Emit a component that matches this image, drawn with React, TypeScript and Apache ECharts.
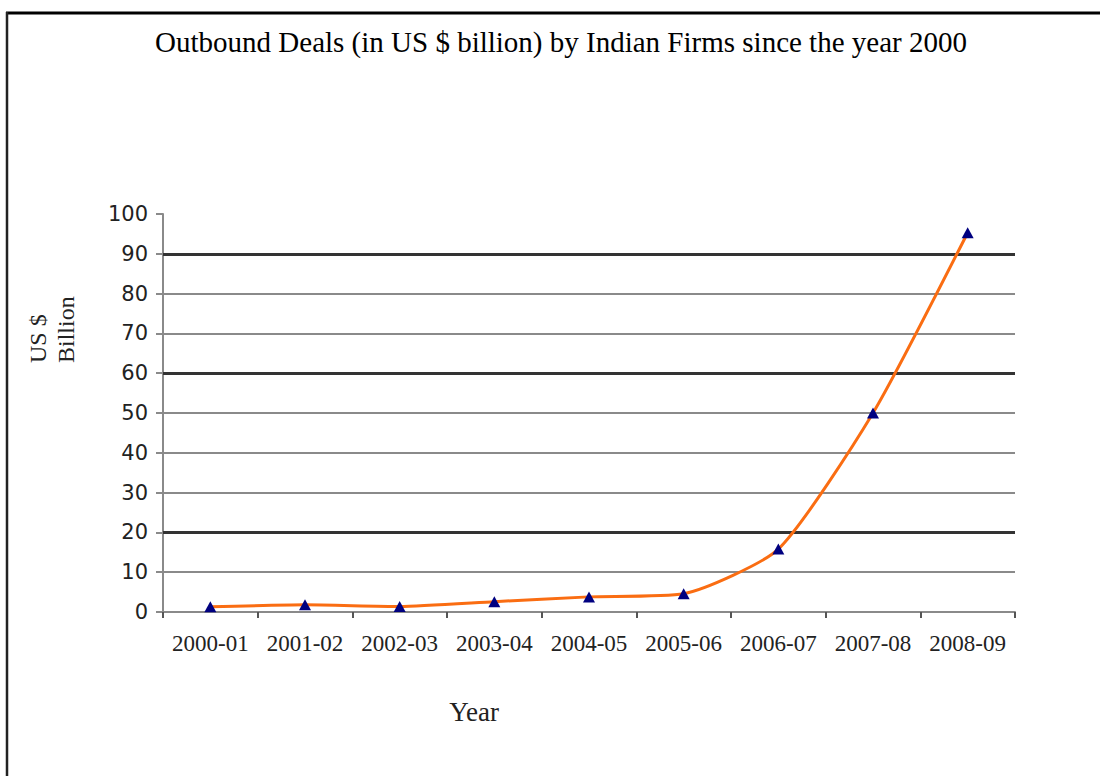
import React, { useEffect, useRef } from "react";
import * as echarts from "echarts";

const categories = ["2000-01", "2001-02", "2002-03", "2003-04", "2004-05", "2005-06", "2006-07", "2007-08", "2008-09"];
const dealValues = [1.3, 1.8, 1.4, 2.6, 3.8, 4.6, 15.8, 50, 95.3];
const emphasisLines = [20, 60, 90];
const titleText = "Outbound Deals (in US $ billion) by Indian Firms since the year 2000";

const SERIF = "'Liberation Serif', 'Times New Roman', serif";
const SANS = "'DejaVu Sans', Verdana, sans-serif";

export default function App() {
  const ref = useRef<HTMLDivElement>(null);
  useEffect(() => {
    if (!ref.current) return;
    const chart = echarts.init(ref.current, undefined, { renderer: "svg" });
    const grid = "#8a8a8a";
    const splitColors = ["#8a8a8a", "#8a8a8a", "#333", "#8a8a8a", "#8a8a8a", "#8a8a8a", "#333", "#8a8a8a", "#8a8a8a", "#333", "rgba(0,0,0,0)"];
    chart.setOption({
      animation: false,
      backgroundColor: "#ffffff",
      grid: { left: 163, right: 85, top: 214, bottom: 164, containLabel: false },
      xAxis: {
        type: "category",
        data: categories,
        boundaryGap: true,
        axisLine: { show: true, lineStyle: { color: grid, width: 2 } },
        axisTick: { show: true, length: 6, lineStyle: { color: "#555", width: 2 } },
        axisLabel: { interval: 0, hideOverlap: false, fontFamily: SERIF, fontSize: 23, color: "#222", margin: 20 },
        splitLine: { show: false },
      },
      yAxis: {
        type: "value",
        min: 0,
        max: 100,
        interval: 10,
        axisLine: { show: true, lineStyle: { color: grid, width: 2 } },
        axisTick: { show: true, length: 7, lineStyle: { color: grid, width: 2 } },
        axisLabel: { fontFamily: SANS, fontSize: 21, color: "#222", margin: 15 },
        splitLine: { show: true, lineStyle: { color: splitColors, width: 2 } },
      },
      series: [
        {
          type: "line",
          data: dealValues,
          smooth: 0.2,
          symbol: "triangle",
          symbolSize: [12, 11],
          itemStyle: { color: "#000080" },
          lineStyle: { color: "#fa6d12", width: 3 },
          z: 5,
          markLine: {
            silent: true,
            symbol: "none",
            label: { show: false },
            lineStyle: { color: "#333", width: 3, type: "solid" },
            data: emphasisLines.map((v) => ({ yAxis: v })),
            z: 1,
          },
        },
      ],
      graphic: [
        { type: "line", shape: { x1: 6, y1: 13, x2: 1100, y2: 13 }, style: { stroke: "#000", lineWidth: 3 } },
        { type: "line", shape: { x1: 7, y1: 12, x2: 7, y2: 776 }, style: { stroke: "#222", lineWidth: 2.5 } },
        {
          type: "text",
          x: 561,
          y: 42,
          style: { text: titleText, fontFamily: SERIF, fontSize: 29, fill: "#000", align: "center", verticalAlign: "middle" },
        },
        {
          type: "text",
          x: 38,
          y: 363,
          rotation: Math.PI / 2,
          style: { text: "US $", fontFamily: SERIF, fontSize: 24, fill: "#222", align: "left", verticalAlign: "middle" },
        },
        {
          type: "text",
          x: 66,
          y: 363,
          rotation: Math.PI / 2,
          style: { text: "Billion", fontFamily: SERIF, fontSize: 24, fill: "#222", align: "left", verticalAlign: "middle" },
        },
        {
          type: "text",
          x: 474,
          y: 712,
          style: { text: "Year", fontFamily: SERIF, fontSize: 27, fill: "#222", align: "center", verticalAlign: "middle" },
        },
      ],
    });
    return () => chart.dispose();
  }, []);
  return <div ref={ref} style={{ position: "fixed", left: 0, top: 0, width: 1100, height: 776 }} />;
}
